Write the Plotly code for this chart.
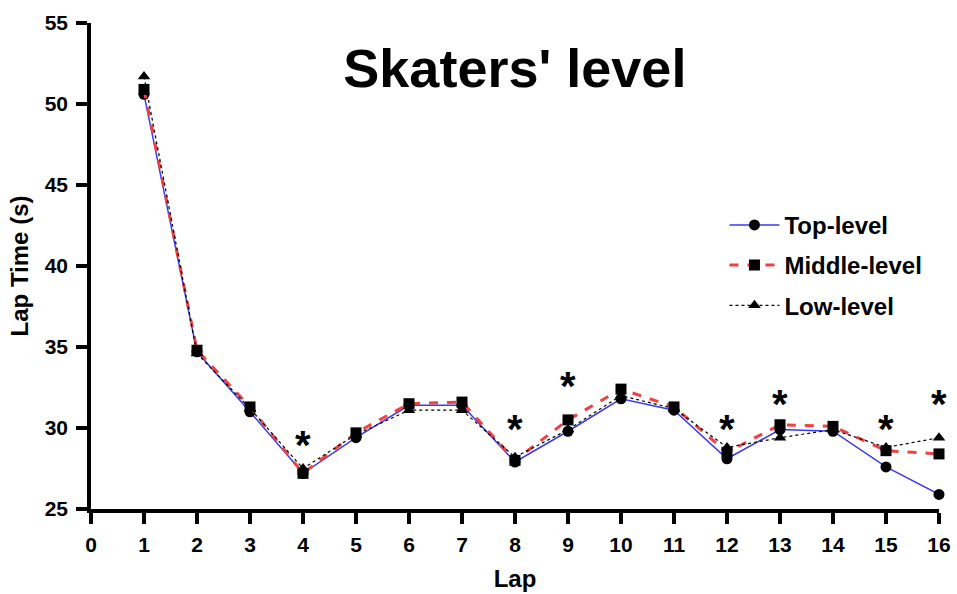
import plotly.graph_objects as go

laps = list(range(1, 17))
top_level = [50.6, 34.7, 31.0, 27.2, 29.4, 31.4, 31.4, 27.9, 29.8, 31.8, 31.1, 28.1, 29.9, 29.8, 27.6, 25.9]
middle_level = [50.9, 34.8, 31.3, 27.2, 29.7, 31.5, 31.6, 28.0, 30.5, 32.4, 31.3, 28.5, 30.2, 30.1, 28.6, 28.4]
low_level = [51.7, 34.6, 31.2, 27.5, 29.6, 31.1, 31.1, 28.2, 29.9, 32.0, 31.2, 28.8, 29.4, 29.9, 28.8, 29.4]

# significance markers
sig_laps = [4, 8, 9, 12, 13, 15, 16]
sig_y = [29.4, 30.4, 33.0, 30.4, 31.9, 30.4, 31.9]

x_ticks = list(range(0, 17))
y_ticks = [25, 30, 35, 40, 45, 50, 55]

FONT = "Liberation Sans, Arial, sans-serif"

fig = go.Figure()
fig.add_trace(go.Scatter(
    x=laps, y=top_level, name="<b>Top-level</b>", mode="lines+markers",
    line=dict(color="#3a3af0", width=1.5),
    marker=dict(symbol="circle", size=11, color="black"),
    cliponaxis=False, legendgroup="a"))
fig.add_trace(go.Scatter(
    x=laps, y=middle_level, name="<b>Middle-level</b>", mode="lines+markers",
    line=dict(color="#f04040", width=3, dash="dash"),
    marker=dict(symbol="square", size=11, color="black"),
    cliponaxis=False, legendgroup="b"))
fig.add_trace(go.Scatter(
    x=laps, y=low_level, name="<b>Low-level</b>", mode="lines+markers",
    line=dict(color="black", width=1.2, dash="dot"),
    marker=dict(symbol="triangle-up", size=11, color="black"),
    cliponaxis=False, legendgroup="c"))

for lx, ly in zip(sig_laps, sig_y):
    fig.add_annotation(x=lx, y=ly, text="<b>*</b>", showarrow=False,
                       font=dict(family=FONT, size=40, color="black"),
                       yanchor="middle", yshift=-7)

fig.update_layout(
    width=957, height=594,
    margin=dict(l=91, r=18, t=23, b=85, autoexpand=False),
    plot_bgcolor="white", paper_bgcolor="white",
    font=dict(family=FONT, color="black"),
    title=dict(text="<b>Skaters' level</b>", x=0.538, xanchor="center",
               y=0.885, yanchor="middle",
               font=dict(family=FONT, size=54, color="black")),
    legend=dict(x=0.747, y=0.63, xanchor="left", yanchor="top",
                font=dict(family=FONT, size=24, color="black"),
                bgcolor="rgba(0,0,0,0)", tracegroupgap=6,
                itemwidth=50),
    showlegend=True,
)
fig.update_xaxes(
    range=[0, 16], tickvals=x_ticks, ticktext=[f"<b>{v}</b>" for v in x_ticks],
    showline=True, linecolor="black", linewidth=3.5, mirror=False,
    ticks="outside", ticklen=11, tickwidth=3.5, tickcolor="black",
    tickfont=dict(family=FONT, size=21, color="black"), ticklabelstandoff=3,
    showgrid=False, zeroline=False, automargin=False,
    title=dict(text="<b>Lap</b>", font=dict(family=FONT, size=24, color="black"), standoff=16),
)
fig.update_yaxes(
    range=[25, 55], tickvals=y_ticks, ticktext=[f"<b>{v}</b>" for v in y_ticks],
    showline=True, linecolor="black", linewidth=3.5, mirror=False,
    ticks="outside", ticklen=11, tickwidth=3.5, tickcolor="black",
    tickfont=dict(family=FONT, size=21, color="black"), ticklabelstandoff=4,
    showgrid=False, zeroline=False, automargin=False,
    title=dict(text="<b>Lap Time (s)</b>", font=dict(family=FONT, size=24, color="black"), standoff=10),
)

fig.write_html("out.html")
